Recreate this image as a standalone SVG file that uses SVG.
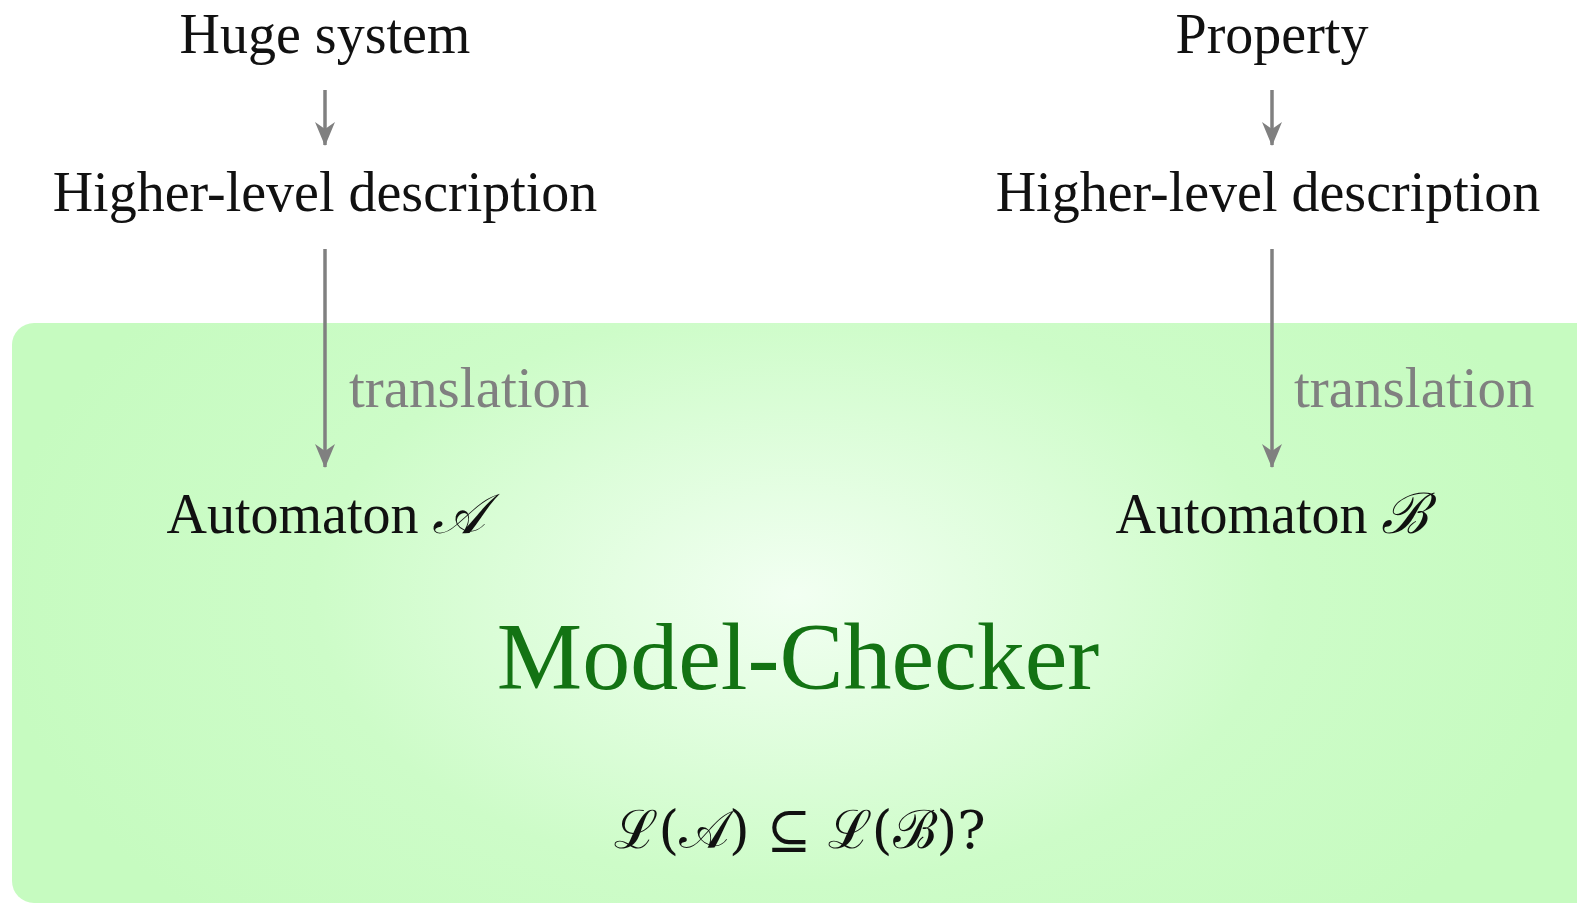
<svg xmlns="http://www.w3.org/2000/svg" width="1577" height="903" viewBox="0 0 1577 903">
<style>
.t{font-family:"Liberation Serif","DejaVu Serif",serif;font-size:56px;fill:#111;text-anchor:middle}
.g{font-family:"Liberation Serif","DejaVu Serif",serif;font-size:57px;fill:#808080}
.mc{font-family:"Liberation Serif","DejaVu Serif",serif;font-size:96px;fill:#137313;text-anchor:middle}
.m{font-family:"DejaVu Serif","Liberation Serif",serif;font-size:53px;fill:#111;text-anchor:middle}
.arr{stroke:#808080;stroke-width:3.5;fill:none;marker-end:url(#ah)}
</style>
<defs>
<radialGradient id="bg" cx="795" cy="595" r="800" gradientUnits="userSpaceOnUse" gradientTransform="translate(795 595) scale(1 0.6) translate(-795 -595)">
<stop offset="0" stop-color="#f2fff2"/>
<stop offset="0.6" stop-color="#cdfcc8"/>
<stop offset="1" stop-color="#c6fbc0"/>
</radialGradient>
<marker id="ah" viewBox="0 0 24 22" refX="23" refY="11" markerWidth="24" markerHeight="22" markerUnits="userSpaceOnUse" orient="auto">
<path d="M24 11 L0 1 L7 11 L0 21 Z" fill="#808080"/>
</marker>
</defs>
<rect id="modelchecker-box" x="12" y="323" width="1620" height="580" rx="22" fill="url(#bg)"/>
<g id="connectors">
<line class="arr" x1="325" y1="90" x2="325" y2="145"/>
<line class="arr" x1="1272" y1="90" x2="1272" y2="145"/>
<line class="arr" x1="325" y1="249" x2="325" y2="467"/>
<line class="arr" x1="1272" y1="249" x2="1272" y2="467"/>
<text class="g" x="349" y="407">translation</text>
<text class="g" x="1294" y="407">translation</text>
</g>
<g id="huge-system"><text class="t" x="325" y="53">Huge system</text></g>
<g id="property"><text class="t" x="1272" y="53">Property</text></g>
<g id="hld-left"><text class="t" x="325" y="211">Higher-level description</text></g>
<g id="hld-right"><text class="t" x="1268" y="211">Higher-level description</text></g>
<g id="automaton-a"><text class="t" x="326" y="533">Automaton <tspan font-style="italic">𝒜</tspan></text></g>
<g id="automaton-b"><text class="t" x="1272" y="533">Automaton <tspan font-style="italic">ℬ</tspan></text></g>
<g id="model-checker"><text class="mc" x="798" y="689">Model-Checker</text></g>
<g id="question"><text class="m" x="800" y="848">ℒ(𝒜) ⊆ ℒ(ℬ)?</text></g>
</svg>
